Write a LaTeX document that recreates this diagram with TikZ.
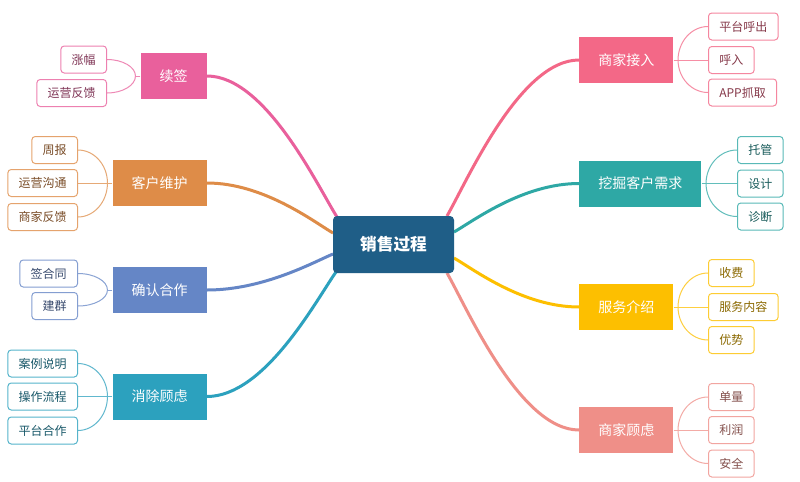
\documentclass[tikz,border=0pt]{standalone}
\usepackage{fontspec}
\setmainfont{Noto Sans CJK SC}
\usetikzlibrary{calc,backgrounds}
\definecolor{hubc}{HTML}{1F5E87}
\definecolor{brA}{HTML}{E9609C}
\definecolor{brB}{HTML}{DE8C48}
\definecolor{brC}{HTML}{6586C6}
\definecolor{brD}{HTML}{2CA1BE}
\definecolor{brE}{HTML}{F36887}
\definecolor{brF}{HTML}{2EA8A5}
\definecolor{brG}{HTML}{FDBF00}
\definecolor{brH}{HTML}{EF8F88}
\newcommand\mmleaf[3]{\draw[slink=#1] (#2) .. controls ($(#2)!0.55!(#3 |- #2)$) and ($(#3)!0.55!(#3 |- #2)$) .. (#3);}
\begin{document}
\begin{tikzpicture}[x=0.75pt,y=-0.75pt,
  hub/.style={fill=hubc, text=white, rounded corners=3pt, minimum width=90.75pt, minimum height=42.75pt, inner sep=0pt, font=\fontsize{12.5pt}{14pt}\selectfont\bfseries},
  branch/.style={fill=#1, text=white, font=\fontsize{10.5pt}{12pt}\selectfont, inner xsep=14.25pt, inner ysep=0pt, minimum height=34.5pt},
  leaf/.style={draw=#1!80!white, fill=white, text=#1!55!black, line width=0.75pt, rounded corners=2.5pt, font=\fontsize{9pt}{11pt}\selectfont, inner xsep=8.1pt, inner ysep=0pt, minimum height=20.25pt},
  mlink/.style={draw=#1, line width=2.25pt},
  slink/.style={draw=#1!75!white, line width=0.75pt}]

% centre
\node[hub] (c) at (393.5,244.5) {销售过程};

% left branches
\node[branch=brA, anchor=east] (b1) at (207,76) {续签};
\node[leaf=brA, anchor=east] (l11) at (107,59.5) {涨幅};
\node[leaf=brA, anchor=east] (l12) at (107,93) {运营反馈};
\coordinate (j1) at ($(b1.west)+(-5,0)$);
\coordinate (e1) at (337,217);

\node[branch=brB, anchor=east] (b2) at (207,183) {客户维护};
\node[leaf=brB, anchor=east] (l21) at (78,150) {周报};
\node[leaf=brB, anchor=east] (l22) at (78,183) {运营沟通};
\node[leaf=brB, anchor=east] (l23) at (78,217) {商家反馈};
\coordinate (j2) at ($(b2.west)+(-5,0)$);
\coordinate (e2) at (333,233);

\node[branch=brC, anchor=east] (b3) at (207,290) {确认合作};
\node[leaf=brC, anchor=east] (l31) at (78,273.5) {签合同};
\node[leaf=brC, anchor=east] (l32) at (78,306) {建群};
\coordinate (j3) at ($(b3.west)+(-5,0)$);
\coordinate (e3) at (333,254);

\node[branch=brD, anchor=east] (b4) at (207,396.5) {消除顾虑};
\node[leaf=brD, anchor=east] (l41) at (78,363.5) {案例说明};
\node[leaf=brD, anchor=east] (l42) at (78,396.5) {操作流程};
\node[leaf=brD, anchor=east] (l43) at (78,430.5) {平台合作};
\coordinate (j4) at ($(b4.west)+(-5,0)$);
\coordinate (e4) at (336,272);

% right branches
\node[branch=brE, anchor=west] (b5) at (579,60) {商家接入};
\node[leaf=brE, anchor=west] (l51) at (708,26.5) {平台呼出};
\node[leaf=brE, anchor=west] (l52) at (708,60) {呼入};
\node[leaf=brE, anchor=west] (l53) at (708,92.5) {APP抓取};
\coordinate (j5) at ($(b5.east)+(4.5,0)$);
\coordinate (e5) at (447,216);

\node[branch=brF, anchor=west] (b6) at (579,183.5) {挖掘客户需求};
\node[leaf=brF, anchor=west] (l61) at (737,150) {托管};
\node[leaf=brF, anchor=west] (l62) at (737,183.5) {设计};
\node[leaf=brF, anchor=west] (l63) at (737,216.5) {诊断};
\coordinate (j6) at ($(b6.east)+(4.5,0)$);
\coordinate (e6) at (454,232);

\node[branch=brG, anchor=west] (b7) at (579,307) {服务介绍};
\node[leaf=brG, anchor=west] (l71) at (708,273) {收费};
\node[leaf=brG, anchor=west] (l72) at (708,307) {服务内容};
\node[leaf=brG, anchor=west] (l73) at (708,340) {优势};
\coordinate (j7) at ($(b7.east)+(4.5,0)$);
\coordinate (e7) at (454,258);

\node[branch=brH, anchor=west] (b8) at (579,430) {商家顾虑};
\node[leaf=brH, anchor=west] (l81) at (708,397) {单量};
\node[leaf=brH, anchor=west] (l82) at (708,430) {利润};
\node[leaf=brH, anchor=west] (l83) at (708,463.5) {安全};
\coordinate (j8) at ($(b8.east)+(4.5,0)$);
\coordinate (e8) at (447,273);

\begin{scope}[on background layer]
\fill[white] (0,0) rectangle (800,482);
\path[use as bounding box] (0,0) rectangle (800,482);
% main links
\draw[mlink=brA] (b1.east) .. controls +(58.5,0) and +(-19.5,-31) .. (e1);
\draw[mlink=brB] (b2.east) .. controls +(56.7,0) and +(-18.9,-11) .. (e2);
\draw[mlink=brC] (b3.east) .. controls +(56.7,0) and +(-18.9,7.9) .. (e3);
\draw[mlink=brD] (b4.east) .. controls +(58,0) and +(-19.4,27.4) .. (e4);
\draw[mlink=brE] (b5.west) .. controls +(-59.4,0) and +(19.8,-34.3) .. (e5);
\draw[mlink=brF] (b6.west) .. controls +(-56.3,0) and +(18.8,-10.7) .. (e6);
\draw[mlink=brG] (b7.west) .. controls +(-56.3,0) and +(18.8,10.8) .. (e7);
\draw[mlink=brH] (b8.west) .. controls +(-59.4,0) and +(19.8,34.5) .. (e8);
% sub links
\draw[slink=brA] (b1.west) -- (j1);
\mmleaf{brA}{l11.east}{j1}
\mmleaf{brA}{l12.east}{j1}
\draw[slink=brB] (b2.west) -- (l22.east);
\mmleaf{brB}{l21.east}{j2}
\mmleaf{brB}{l23.east}{j2}
\draw[slink=brC] (b3.west) -- (j3);
\mmleaf{brC}{l31.east}{j3}
\mmleaf{brC}{l32.east}{j3}
\draw[slink=brD] (b4.west) -- (l42.east);
\mmleaf{brD}{l41.east}{j4}
\mmleaf{brD}{l43.east}{j4}
\draw[slink=brE] (b5.east) -- (l52.west);
\mmleaf{brE}{l51.west}{j5}
\mmleaf{brE}{l53.west}{j5}
\draw[slink=brF] (b6.east) -- (l62.west);
\mmleaf{brF}{l61.west}{j6}
\mmleaf{brF}{l63.west}{j6}
\draw[slink=brG] (b7.east) -- (l72.west);
\mmleaf{brG}{l71.west}{j7}
\mmleaf{brG}{l73.west}{j7}
\draw[slink=brH] (b8.east) -- (l82.west);
\mmleaf{brH}{l81.west}{j8}
\mmleaf{brH}{l83.west}{j8}
\end{scope}
\end{tikzpicture}
\end{document}
